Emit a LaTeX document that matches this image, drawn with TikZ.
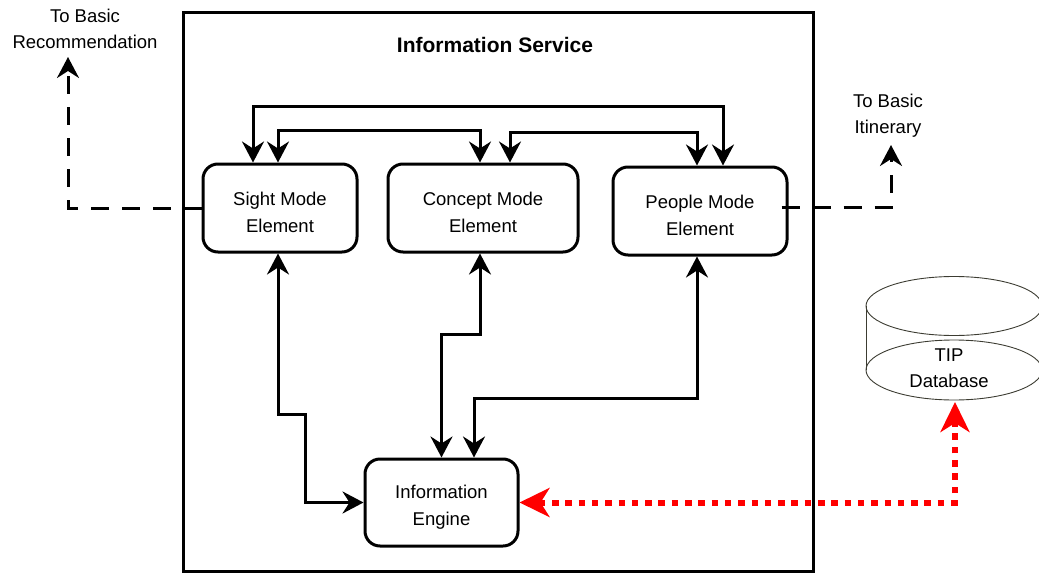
\documentclass[tikz,border=0pt]{standalone}
\usepackage{fontspec}
\setmainfont{Liberation Sans}
\usetikzlibrary{arrows.meta}
\definecolor{dbgray}{RGB}{60,60,50}
\newcommand\lowertext{\rule{0pt}{23pt}}
\begin{document}
\begin{tikzpicture}[x=1pt,y=-1pt,
  box/.style={draw, line width=3pt, rounded corners=15pt, align=center,
    font=\fontsize{18.5}{27}\selectfont, inner sep=0pt},
  lbl/.style={align=center, font=\fontsize{18.5}{26}\selectfont, inner sep=0pt},
  tip/.tip={Stealth[length=21pt,width=22pt,inset=7pt]},
  rtip/.tip={Stealth[length=30pt,width=29pt,inset=9pt]},
  link/.style={line width=3pt, tip-tip},
  dlink/.style={line width=3pt, dash pattern=on 18pt off 13pt, -tip},
  rlink/.style={line width=6pt, draw=red, dash pattern=on 6.5pt off 6.8pt, rtip-rtip},
  dbline/.style={draw=dbgray, line width=0.9pt}
]
\useasboundingbox (0,0) rectangle (1039,573);

% container
\node[draw, line width=3pt, minimum width=630pt, minimum height=559pt, inner sep=0pt] (svc) at (498,291.5) {};
\node[font=\bfseries\fontsize{21}{25}\selectfont, inner sep=0pt] (title) at (495,45) {Information Service};

% elements
\node[box, minimum width=154pt, minimum height=88pt] (sight) at (280,208) {\lowertext Sight Mode\\Element};
\node[box, minimum width=190pt, minimum height=88pt] (concept) at (483,208) {\lowertext Concept Mode\\Element};
\node[box, minimum width=174pt, minimum height=88pt] (people) at (700,211) {\lowertext People Mode\\Element};
\node[box, minimum width=153pt, minimum height=87pt] (engine) at (441.5,502.5) {\lowertext Information\\Engine};

% database
\draw[dbline] (954,306) ellipse [x radius=88pt, y radius=29.5pt];
\draw[dbline] (954,370) ellipse [x radius=88pt, y radius=30pt];
\draw[dbline] (866,306) -- (866,370);
\draw[dbline] (1042,306) -- (1042,370);
\node[lbl] (dbtxt) at (949,368) {TIP\\Database};
\coordinate (dbin) at (955,402);

% outside labels
\node[lbl] (reclbl) at (85,29) {To Basic\\Recommendation};
\node[lbl] (itinlbl) at (888,116) {To Basic\\Itinerary};
\coordinate (rec) at (68,57);
\coordinate (itin) at (891,145);

% top connectors
\draw[link] ([xshift=-27pt]sight.north) -- ++(0,-56) -| ([xshift=23pt]people.north);
\draw[link] ([xshift=-2pt]sight.north) -- ++(0,-32) -| ([xshift=-3pt]concept.north);
\draw[link] ([xshift=27pt]concept.north) -- ++(0,-30) -| ([xshift=-3pt]people.north);

% bottom connectors
\draw[link] ([xshift=-2pt]sight.south) -- ++(0,161) -- ++(27,0) |- (engine.west);
\draw[link] ([xshift=-3pt]concept.south) -- ++(0,81) -| (engine.north);
\draw[link] ([xshift=-3pt]people.south) -- ++(0,142) -| ([xshift=32.5pt]engine.north);

% dashed outputs
\draw[dlink] (sight.west) -| (rec);
\draw[dlink] ([xshift=-7pt,yshift=4pt]people.east) -| (itin);

% database link
\draw[rlink] (engine.east) -| (dbin);
\end{tikzpicture}
\end{document}
